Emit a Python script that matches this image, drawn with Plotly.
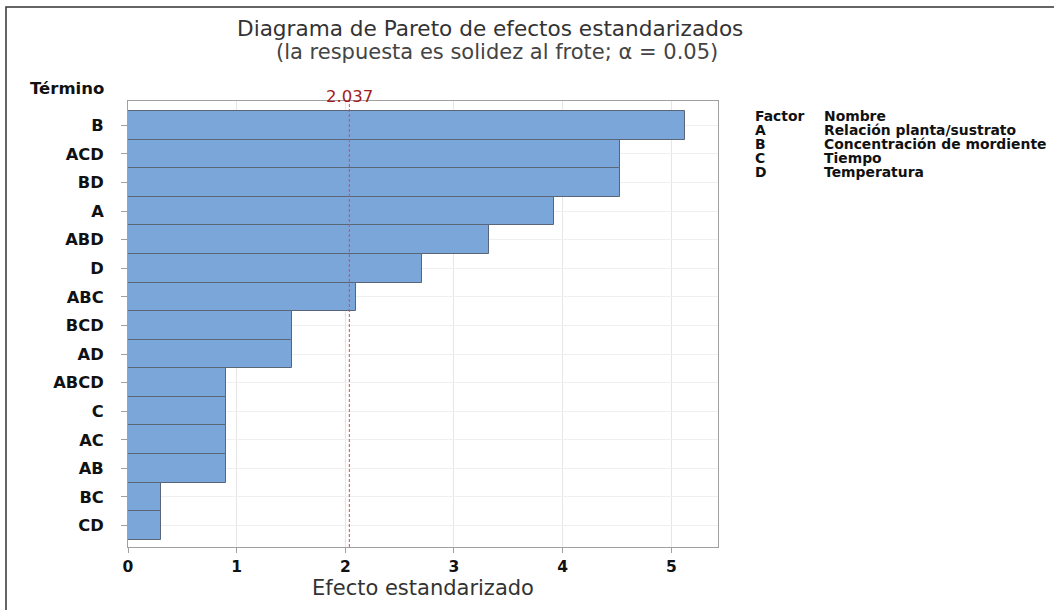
import plotly.graph_objects as go

terms = ["B", "ACD", "BD", "A", "ABD", "D", "ABC", "BCD", "AD", "ABCD", "C", "AC", "AB", "BC", "CD"]
effects = [5.13, 4.53, 4.53, 3.92, 3.32, 2.71, 2.10, 1.51, 1.51, 0.90, 0.90, 0.90, 0.90, 0.30, 0.30]
ref_value = 2.037
x_ticks = [0, 1, 2, 3, 4, 5]
factor_letters = ["A", "B", "C", "D"]
factor_names = ["Relación planta/sustrato", "Concentración de mordiente", "Tiempo", "Temperatura"]

W, H = 1054, 610
L, R, T, B = 128, 718, 101, 547

def px(x):
    return (x - L) / (R - L)

def py(y):
    return (B - y) / (B - T)

FONT = "DejaVu Sans"

fig = go.Figure()
fig.add_trace(go.Bar(
    x=effects, y=terms, orientation="h",
    marker=dict(color="#7BA6D9", line=dict(color="#5A6678", width=1)),
    width=1.0, showlegend=False, hoverinfo="x+y",
))

fig.add_shape(type="line", xref="x", yref="paper", x0=ref_value, x1=ref_value, y0=0, y1=1,
              line=dict(color="#E0484A", width=1, dash="3px,2px"))

annotations = [
    dict(text="Diagrama de Pareto de efectos estandarizados", x=px(490), y=py(29),
         font=dict(size=21.6, color="#333333")),
    dict(text="(la respuesta es solidez al frote; α = 0.05)", x=px(497), y=py(52),
         font=dict(size=21, color="#444444")),
    dict(text="<b>Término</b>", x=px(67), y=py(88), font=dict(size=16.5, color="#111111")),
    dict(text=f"{ref_value:.3f}", x=ref_value, xref="x", y=py(96),
         font=dict(size=16.5, color="#A31A1A")),
]
for a in annotations:
    a.setdefault("xref", "paper")
    a.update(yref="paper", showarrow=False, xanchor="center", yanchor="middle")

rows_y = [116, 130, 144, 158, 172]
header = [("Factor", "Nombre")] + list(zip(factor_letters, factor_names))
for (c1, c2), yy in zip(header, rows_y):
    annotations.append(dict(text=f"<b>{c1}</b>", x=px(753), y=py(yy), xref="paper", yref="paper",
                            showarrow=False, xanchor="left", yanchor="middle",
                            font=dict(size=13.9, color="#111111")))
    annotations.append(dict(text=f"<b>{c2}</b>", x=px(822), y=py(yy), xref="paper", yref="paper",
                            showarrow=False, xanchor="left", yanchor="middle",
                            font=dict(size=13.9, color="#111111")))

# outer frame
fig.add_shape(type="rect", xref="paper", yref="paper",
              x0=px(6), x1=px(1070), y0=py(7), y1=py(640),
              line=dict(color="#333333", width=1.5), fillcolor="rgba(0,0,0,0)", layer="above")

fig.update_layout(
    width=W, height=H,
    margin=dict(l=L, r=W - R, t=T, b=H - B, pad=0),
    paper_bgcolor="white", plot_bgcolor="white",
    font=dict(family=FONT, color="#111111"),
    bargap=0,
    annotations=annotations,
    xaxis=dict(
        range=[0, 5.43], tickvals=x_ticks, ticktext=[str(v) for v in x_ticks],
        showgrid=True, gridcolor="#E6E6E6", gridwidth=1,
        showline=True, linecolor="#A0A0A0", linewidth=1, mirror=True,
        ticks="outside", ticklen=5, tickcolor="#A0A0A0",
        tickfont=dict(size=15.5, color="#111111", weight="bold"),
        zeroline=False,
        title=dict(text="Efecto estandarizado", font=dict(size=21, color="#333333"), standoff=5),
    ),
    yaxis=dict(
        categoryorder="array", categoryarray=terms,
        range=[14.75, -0.85],
        showgrid=True, gridcolor="#EFEFEF", gridwidth=1,
        showline=True, linecolor="#A0A0A0", linewidth=1, mirror=True,
        ticks="outside", ticklen=6, tickcolor="#A0A0A0",
        tickfont=dict(size=16.3, color="#111111", weight="bold"),
        ticklabelstandoff=14,
        zeroline=False,
    ),
)

fig.write_html("out.html", config={"displayModeBar": False},
               post_script="document.body.style.margin='0';document.body.style.overflow='hidden';")
